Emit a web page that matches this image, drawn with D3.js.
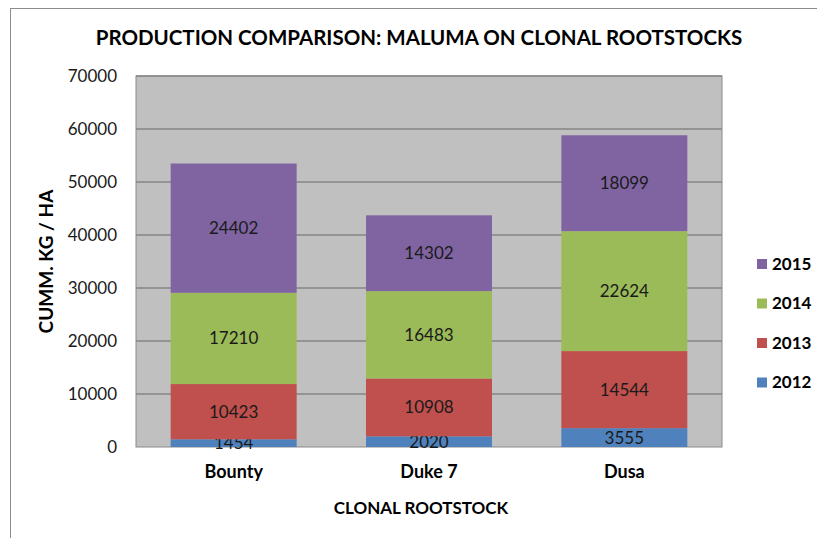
<!DOCTYPE html>
<html>
<head>
<meta charset="utf-8">
<script src="https://cdn.jsdelivr.net/npm/d3@7"></script>
<style>
  body { margin: 0; background: white; }
  text { font-family: Lato, 'Noto Sans', sans-serif; }
</style>
</head>
<body>
<div id="chart"></div>
<script>
var rootstocks = ['Bounty', 'Duke 7', 'Dusa'];
var years = ['2012', '2013', '2014', '2015'];
var values_2012 = [1454, 2020, 3555];
var values_2013 = [10423, 10908, 14544];
var values_2014 = [17210, 16483, 22624];
var values_2015 = [24402, 14302, 18099];
var y_ticks = [0, 10000, 20000, 30000, 40000, 50000, 60000, 70000];
var year_colors = ['#4f81bd', '#c0504d', '#9bbb59', '#8064a2'];

var width = 817;
var height = 538;
var plot = {left: 136, top: 76, right: 722, bottom: 447};

var rows = rootstocks.map(function(name, i) {
  return {
    name: name,
    '2012': values_2012[i],
    '2013': values_2013[i],
    '2014': values_2014[i],
    '2015': values_2015[i]
  };
});

var series = d3.stack().keys(years)(rows);

var x = d3.scaleBand()
  .domain(rootstocks)
  .range([plot.left, plot.right])
  .paddingInner(0.355)
  .paddingOuter(0.1775);

var y = d3.scaleLinear()
  .domain([0, 70000])
  .range([plot.bottom, plot.top]);

var color = d3.scaleOrdinal()
  .domain(years)
  .range(year_colors);

var svg = d3.select('#chart')
  .append('svg')
  .attr('width', width)
  .attr('height', height);

// outer chart frame
svg.append('rect')
  .attr('x', 10.5)
  .attr('y', 8.5)
  .attr('width', 900)
  .attr('height', 600)
  .attr('fill', 'white')
  .attr('stroke', '#8c8c8c');

svg.append('text')
  .attr('x', 419)
  .attr('y', 45)
  .attr('text-anchor', 'middle')
  .style('font-size', '20.5px')
  .style('font-weight', 'bold')
  .text('PRODUCTION COMPARISON: MALUMA ON CLONAL ROOTSTOCKS');

// plot area
svg.append('rect')
  .attr('x', plot.left)
  .attr('y', plot.top)
  .attr('width', plot.right - plot.left)
  .attr('height', plot.bottom - plot.top)
  .attr('fill', '#c0c0c0')
  .attr('stroke', '#8a8a8a')
  .attr('stroke-width', 1);

svg.append('g')
  .selectAll('line')
  .data(y_ticks.filter(function(d) { return d > 0; }))
  .join('line')
  .attr('x1', plot.left)
  .attr('x2', plot.right)
  .attr('y1', function(d) { return y(d); })
  .attr('y2', function(d) { return y(d); })
  .attr('stroke', '#868686')
  .attr('stroke-width', 1.5);

var y_axis = svg.append('g')
  .attr('transform', 'translate(' + plot.left + ',0)')
  .call(d3.axisLeft(y).tickValues(y_ticks).tickFormat(d3.format('d')).tickSize(0).tickPadding(19));
y_axis.select('.domain').remove();
y_axis.selectAll('text')
  .style('font-size', '17px')
  .style('font-family', 'Lato, sans-serif')
  .attr('fill', '#1a1a1a');

var layers = svg.append('g')
  .selectAll('g')
  .data(series)
  .join('g')
  .attr('fill', function(d) { return color(d.key); });

layers.selectAll('rect')
  .data(function(d) { return d; })
  .join('rect')
  .attr('x', function(d) { return x(d.data.name); })
  .attr('width', x.bandwidth())
  .attr('y', function(d) { return y(d[1]); })
  .attr('height', function(d) { return y(d[0]) - y(d[1]); });

layers.selectAll('text')
  .data(function(d) { return d.map(function(p) { return {p: p, key: d.key}; }); })
  .join('text')
  .attr('x', function(d) { return x(d.p.data.name) + x.bandwidth() / 2; })
  .attr('y', function(d) { return (y(d.p[0]) + y(d.p[1])) / 2; })
  .attr('dy', '0.35em')
  .attr('text-anchor', 'middle')
  .attr('fill', '#1a1a1a')
  .style('font-size', '17px')
  .text(function(d) { return d.p.data[d.key]; });

var x_axis = svg.append('g')
  .attr('transform', 'translate(0,' + plot.bottom + ')')
  .call(d3.axisBottom(x).tickSize(0).tickPadding(18));
x_axis.select('.domain').remove();
x_axis.selectAll('text')
  .style('font-size', '18px')
  .style('font-weight', 'bold')
  .style('font-family', 'Lato, sans-serif')
  .attr('fill', 'black');

svg.append('text')
  .attr('x', 421)
  .attr('y', 514)
  .attr('text-anchor', 'middle')
  .style('font-size', '17px')
  .style('font-weight', 'bold')
  .text('CLONAL ROOTSTOCK');

svg.append('text')
  .attr('transform', 'translate(53,' + ((plot.top + plot.bottom) / 2) + ') rotate(-90)')
  .attr('text-anchor', 'middle')
  .style('font-size', '19px')
  .style('font-weight', 'bold')
  .text('CUMM. KG / HA');

// legend, newest year on top
var legend = svg.append('g')
  .selectAll('g')
  .data(years.slice().reverse())
  .join('g')
  .attr('transform', function(d, i) { return 'translate(757,' + (264 + i * 39.5) + ')'; });

legend.append('rect')
  .attr('x', 0)
  .attr('y', -5)
  .attr('width', 10)
  .attr('height', 10)
  .attr('fill', function(d) { return color(d); });

legend.append('text')
  .attr('x', 15)
  .attr('dy', '0.35em')
  .style('font-size', '17px')
  .style('font-weight', 'bold')
  .text(function(d) { return d; });
</script>
</body>
</html>
